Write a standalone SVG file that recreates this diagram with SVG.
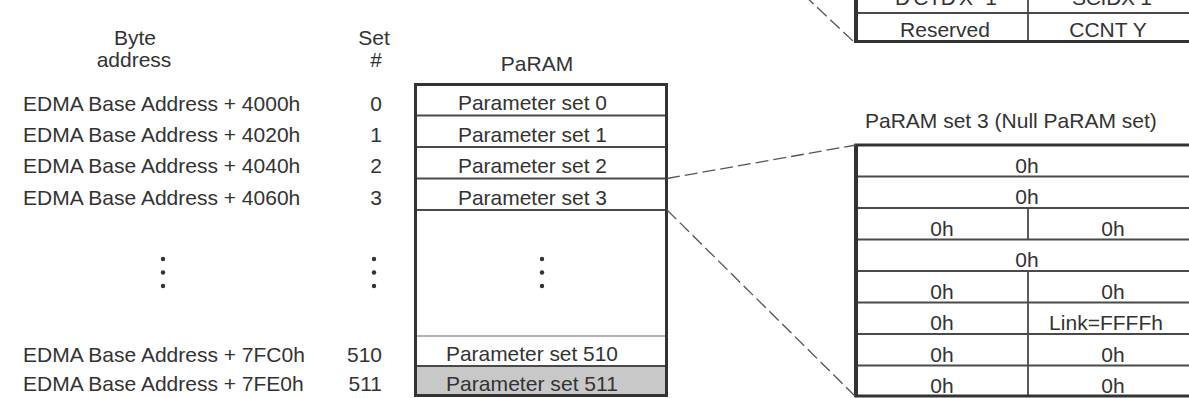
<svg xmlns="http://www.w3.org/2000/svg" width="1189" height="398" viewBox="0 0 1189 398">
<style>
text{font-family:"Liberation Sans",Arial,sans-serif;font-size:21px;fill:#333}
.c{text-anchor:middle}
.r{text-anchor:end}
.frame{fill:none;stroke:#333;stroke-width:3}
.thick{fill:none;stroke:#333;stroke-width:4}
.div{stroke:#4a4a4a;stroke-width:1.8}
.light{stroke:#9a9a9a;stroke-width:1.5}
.dash{fill:none;stroke:#555;stroke-width:1.3;stroke-dasharray:13 5}
.dot{fill:#333}
.pt{text-anchor:middle}
</style>
<rect width="1189" height="398" fill="#fff"/>
<g id="header">
 <text class="c" x="135" y="45">Byte</text>
 <text class="c" x="134" y="67">address</text>
 <text class="c" x="374" y="45">Set</text>
 <text class="c" x="376" y="67">#</text>
</g>
<g id="addresses">
 <text x="23" y="111">EDMA Base Address + 4000h</text>
 <text x="23" y="142">EDMA Base Address + 4020h</text>
 <text x="23" y="173">EDMA Base Address + 4040h</text>
 <text x="23" y="205">EDMA Base Address + 4060h</text>
 <circle class="dot" cx="163" cy="259" r="2.2"/>
 <circle class="dot" cx="163" cy="272.5" r="2.2"/>
 <circle class="dot" cx="163" cy="286" r="2.2"/>
 <text x="23" y="362">EDMA Base Address + 7FC0h</text>
 <text x="23" y="391">EDMA Base Address + 7FE0h</text>
</g>
<g id="set-numbers">
 <text class="r" x="382" y="111">0</text>
 <text class="r" x="382" y="142">1</text>
 <text class="r" x="382" y="173">2</text>
 <text class="r" x="382" y="205">3</text>
 <circle class="dot" cx="374" cy="259" r="2.2"/>
 <circle class="dot" cx="374" cy="272.5" r="2.2"/>
 <circle class="dot" cx="374" cy="286" r="2.2"/>
 <text class="r" x="382" y="362">510</text>
 <text class="r" x="382" y="391">511</text>
</g>
<g id="param-table">
 <text class="c" x="537" y="71">PaRAM</text>
 <rect x="415.5" y="366" width="251" height="30" fill="#c8c8c8"/>
 <line class="div" x1="415" y1="115.5" x2="667" y2="115.5"/>
 <line class="div" x1="415" y1="147" x2="667" y2="147"/>
 <line class="div" x1="415" y1="178.5" x2="667" y2="178.5"/>
 <line class="div" x1="415" y1="210" x2="667" y2="210"/>
 <line class="light" x1="415" y1="336" x2="667" y2="336"/>
 <line class="div" x1="415" y1="366" x2="667" y2="366"/>
 <rect class="frame" x="415.5" y="84.5" width="251" height="311"/>
 <text class="pt" x="532.5" y="110" textLength="149" lengthAdjust="spacingAndGlyphs">Parameter set 0</text>
 <text class="pt" x="532.5" y="141.5" textLength="149" lengthAdjust="spacingAndGlyphs">Parameter set 1</text>
 <text class="pt" x="532.5" y="173" textLength="149" lengthAdjust="spacingAndGlyphs">Parameter set 2</text>
 <text class="pt" x="532.5" y="204.5" textLength="149" lengthAdjust="spacingAndGlyphs">Parameter set 3</text>
 <circle class="dot" cx="542" cy="259" r="2.2"/>
 <circle class="dot" cx="542" cy="272.5" r="2.2"/>
 <circle class="dot" cx="542" cy="286" r="2.2"/>
 <text class="pt" x="532" y="361" textLength="172" lengthAdjust="spacingAndGlyphs">Parameter set 510</text>
 <text class="pt" x="532" y="391" textLength="172" lengthAdjust="spacingAndGlyphs">Parameter set 511</text>
</g>
<g id="null-set">
 <text x="865" y="128">PaRAM set 3 (Null PaRAM set)</text>
 <line class="div" x1="856" y1="176.5" x2="1189" y2="176.5"/>
 <line class="div" x1="856" y1="208" x2="1189" y2="208"/>
 <line class="div" x1="856" y1="239.5" x2="1189" y2="239.5"/>
 <line class="div" x1="856" y1="271" x2="1189" y2="271"/>
 <line class="div" x1="856" y1="302.5" x2="1189" y2="302.5"/>
 <line class="div" x1="856" y1="334" x2="1189" y2="334"/>
 <line class="div" x1="856" y1="365.5" x2="1189" y2="365.5"/>
 <line class="div" x1="1028" y1="208" x2="1028" y2="239.5"/>
 <line class="div" x1="1028" y1="271" x2="1028" y2="396"/>
 <path class="frame" d="M1192,145 H856 V396 H1192"/>
 <line class="thick" x1="856" y1="144" x2="856" y2="397"/>
 <text class="c" x="1027" y="172.5">0h</text>
 <text class="c" x="1027" y="204">0h</text>
 <text class="c" x="942" y="235.5">0h</text>
 <text class="c" x="1113" y="235.5">0h</text>
 <text class="c" x="1027" y="267">0h</text>
 <text class="c" x="942" y="298.5">0h</text>
 <text class="c" x="1113" y="298.5">0h</text>
 <text class="c" x="942" y="330">0h</text>
 <text class="c" x="1106" y="330">Link=FFFFh</text>
 <text class="c" x="942" y="361.5">0h</text>
 <text class="c" x="1113" y="361.5">0h</text>
 <text class="c" x="942" y="392.5">0h</text>
 <text class="c" x="1113" y="392.5">0h</text>
</g>
<g id="top-table">
 <line class="div" x1="856" y1="13" x2="1189" y2="13"/>
 <line class="div" x1="1028" y1="-2" x2="1028" y2="41"/>
 <path class="frame" d="M856,-3 V41.5 H1192"/>
 <line class="thick" x1="856" y1="-3" x2="856" y2="43"/>
 <text x="895" y="5" textLength="102" lengthAdjust="spacing">DCIDX 1</text>
 <text x="1072" y="5" textLength="80" lengthAdjust="spacing">SCIDX 1</text>
 <text class="c" x="945" y="37">Reserved</text>
 <text class="c" x="1108" y="37">CCNT Y</text>
</g>
<g id="connectors">
 <line class="dash" x1="667" y1="178.5" x2="856" y2="145"/>
 <line class="dash" x1="667" y1="210" x2="855" y2="396"/>
 <line class="dash" x1="804" y1="-5" x2="854" y2="42"/>
</g>
</svg>
